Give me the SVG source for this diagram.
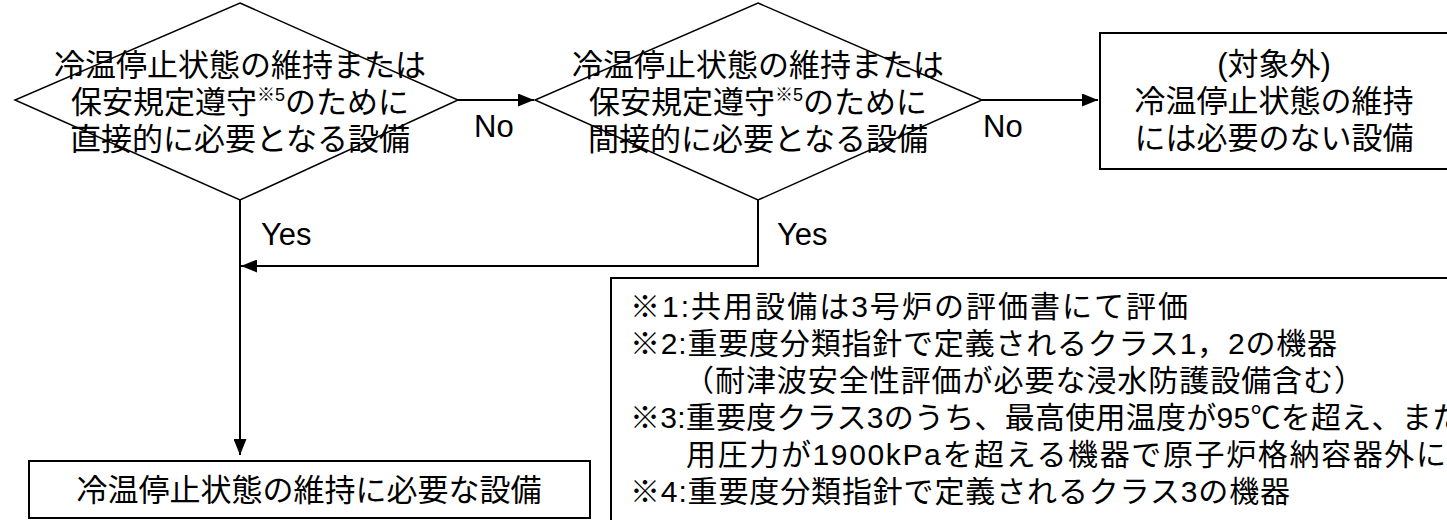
<svg xmlns="http://www.w3.org/2000/svg" width="1447" height="520" viewBox="0 0 1447 520">
<defs>
<style>
.t{font-family:"Liberation Sans","Noto Sans CJK JP",sans-serif;font-size:31px;fill:#000}
.c{text-anchor:middle}
.n{font-family:"Liberation Sans","Noto Sans CJK JP",sans-serif;font-size:30px;fill:#000}
.shape{fill:#fff;stroke:#000;stroke-width:1.5}
.box{fill:#fff;stroke:#000;stroke-width:2}
.conn{fill:none;stroke:#000;stroke-width:2}
</style>
<marker id="ah" markerUnits="userSpaceOnUse" markerWidth="16" markerHeight="13" refX="16" refY="6.5" orient="auto">
<path d="M0,0 L16,6.5 L0,13 z" fill="#000"/>
</marker>
</defs>
<rect width="1447" height="520" fill="#fff"/>
<g id="connectors">
<line class="conn" x1="458" y1="100" x2="534" y2="100" marker-end="url(#ah)"/>
<line class="conn" x1="982" y1="100" x2="1098" y2="100" marker-end="url(#ah)"/>
<path class="conn" d="M758,200 V266 H241" marker-end="url(#ah)"/>
<line class="conn" x1="240" y1="200" x2="240" y2="455" marker-end="url(#ah)"/>
<text class="t" x="474" y="137">No</text>
<text class="t" x="983" y="137">No</text>
<text class="t" x="261" y="245">Yes</text>
<text class="t" x="777" y="245">Yes</text>
</g>
<g id="decision1">
<polygon class="shape" points="240,3 458,100 240,200 15,100"/>
<text class="t c" x="240" y="76">冷温停止状態の維持または</text>
<text class="t c" x="240" y="113">保安規定遵守<tspan font-size="18" dy="-12">※5</tspan><tspan dy="12">のために</tspan></text>
<text class="t c" x="240" y="150">直接的に必要となる設備</text>
</g>
<g id="decision2">
<polygon class="shape" points="758,3 982,100 758,200 535,100"/>
<text class="t c" x="758" y="76">冷温停止状態の維持または</text>
<text class="t c" x="758" y="113">保安規定遵守<tspan font-size="18" dy="-12">※5</tspan><tspan dy="12">のために</tspan></text>
<text class="t c" x="758" y="150">間接的に必要となる設備</text>
</g>
<g id="outOfScope">
<rect class="box" x="1100" y="33" width="350" height="136"/>
<text class="t c" x="1274" y="75">(対象外)</text>
<text class="t c" x="1274" y="112">冷温停止状態の維持</text>
<text class="t c" x="1274" y="149">には必要のない設備</text>
</g>
<g id="required">
<rect class="box" x="29" y="461" width="561" height="57"/>
<text class="t c" x="309" y="501">冷温停止状態の維持に必要な設備</text>
</g>
<g id="notes">
<rect class="box" x="611" y="278" width="900" height="300"/>
<text class="n" x="630" y="317" textLength="558" lengthAdjust="spacing">※1:共用設備は3号炉の評価書にて評価</text>
<text class="n" x="630" y="354" textLength="707" lengthAdjust="spacing">※2:重要度分類指針で定義されるクラス1，2の機器</text>
<text class="n" x="684" y="391" textLength="680" lengthAdjust="spacing">（耐津波安全性評価が必要な浸水防護設備含む）</text>
<text class="n" x="630" y="428" textLength="832" lengthAdjust="spacing">※3:重要度クラス3のうち、最高使用温度が95℃を超え、また</text>
<text class="n" x="686" y="465" textLength="760" lengthAdjust="spacing">用圧力が1900kPaを超える機器で原子炉格納容器外に</text>
<text class="n" x="630" y="502" textLength="660" lengthAdjust="spacing">※4:重要度分類指針で定義されるクラス3の機器</text>
</g>
</svg>
